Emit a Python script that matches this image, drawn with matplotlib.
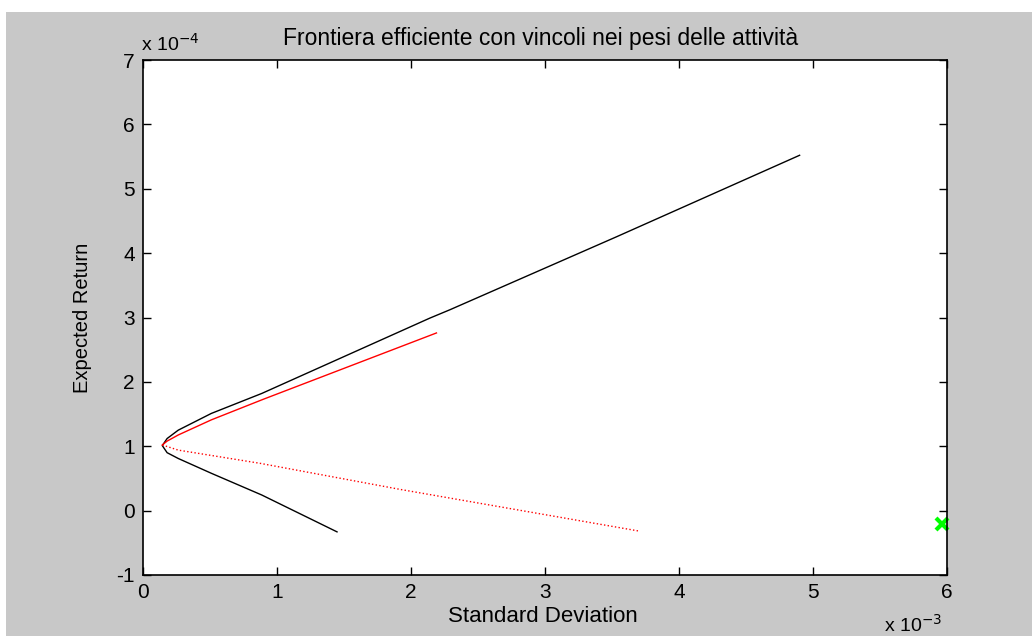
import matplotlib.pyplot as plt
from matplotlib.patches import Rectangle

# data (x in 1e-3, y in 1e-4)
black_x = [4.90, 3.535, 2.29, 2.14, 0.886, 0.51, 0.263, 0.18, 0.144, 0.18, 0.263, 0.51, 0.886, 1.448]
black_y = [5.52, 4.255, 3.12, 2.99, 1.82, 1.51, 1.25, 1.12, 1.01, 0.90, 0.81, 0.58, 0.243, -0.33]

red_x = [2.19, 0.898, 0.51, 0.263, 0.18, 0.144]
red_y = [2.76, 1.73, 1.41, 1.175, 1.08, 1.02]

red_dot_x = [0.144, 0.263, 0.873, 1.918, 3.709]
red_dot_y = [1.02, 0.94, 0.735, 0.33, -0.32]

point_x = [5.96]
point_y = [-0.2]

plt.rcParams['font.family'] = ['Liberation Sans', 'DejaVu Sans']
plt.rcParams['axes.unicode_minus'] = False

fig = plt.figure(figsize=(10.32, 6.36), dpi=100)
fig.patch.set_facecolor('white')
fig.add_artist(Rectangle((6 / 1032, 0), 1, 1 - 12 / 636, transform=fig.transFigure,
                         facecolor='#c8c8c8', edgecolor='none', zorder=-10))

ax = fig.add_axes([143 / 1032, 1 - 575 / 636, (947 - 143) / 1032, (575 - 60) / 636])
ax.set_facecolor('white')

ax.plot(black_x, black_y, color='black', lw=1.0)
ax.plot(red_x, red_y, color='red', lw=1.0)
ax.plot(red_dot_x, red_dot_y, color='red', lw=1.0, linestyle=':')
ax.plot(point_x, point_y, 'x', color='#00ff00', markersize=9, mew=3, clip_on=False)

ax.set_xlim(0, 6)
ax.set_ylim(-1, 7)
ax.set_xticks(range(0, 7))
ax.set_yticks(range(-1, 8))
ax.tick_params(direction='in', top=True, right=True, length=6, width=1,
               labelsize=15, pad=6)
for s in ax.spines.values():
    s.set_linewidth(1.2)

fig.text(541 / 1032, 1 - 38 / 636, 'Frontiera efficiente con vincoli nei pesi delle attività',
         ha='center', va='center', fontsize=16.5)
fig.text(543 / 1032, 1 - 617 / 636, 'Standard Deviation', ha='center', va='center', fontsize=16)
fig.text(83 / 1032, 1 - 318 / 636, 'Expected Return', ha='center', va='center',
         rotation=90, fontsize=14.5)
fig.text(141 / 1032, 1 - 44 / 636, r'x 10$^{-4}$', ha='left', va='center', fontsize=14)
fig.text(884 / 1032, 1 - 625 / 636, r'x 10$^{-3}$', ha='left', va='center', fontsize=14)

fig.savefig('out.png', dpi=100)
